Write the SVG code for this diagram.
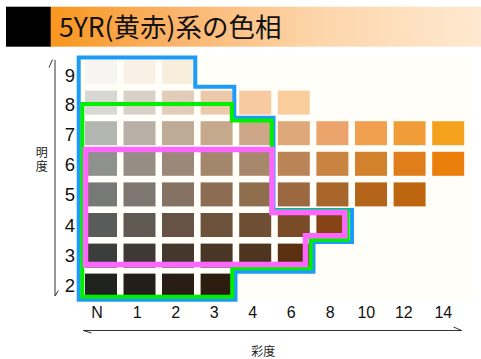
<svg xmlns="http://www.w3.org/2000/svg" width="481" height="359" viewBox="0 0 481 359">
<defs>
<linearGradient id="tg" x1="0" y1="0" x2="1" y2="0">
<stop offset="0" stop-color="#F8961E"/>
<stop offset="0.3" stop-color="#FBB56E"/>
<stop offset="0.6" stop-color="#FDD4A8"/>
<stop offset="1" stop-color="#FFE9D0"/>
</linearGradient>
<style>
.sw rect{height:24px;width:32px}
.ax{stroke:#333;stroke-width:1;fill:none}
.num{font-family:"Liberation Sans",Arial,sans-serif;fill:#111}
.yl{font-size:18.5px;text-anchor:middle}
.xl{font-size:16px;text-anchor:middle}
.jp{font-family:"Noto Sans CJK JP","Noto Sans CJK SC",sans-serif;fill:#222;font-size:12px}
.ol{fill:none;stroke-linejoin:miter}
</style>
</defs>
<rect width="481" height="359" fill="#FFFFFF"/>
<g id="title">
<rect x="6" y="6.7" width="45" height="40" fill="#000"/>
<rect x="50.7" y="6.7" width="430.3" height="40" fill="url(#tg)"/>
<text x="59" y="36.7" font-family="'Noto Sans CJK JP','Noto Sans CJK SC',sans-serif" font-size="26.5" fill="#111">5YR(黄赤)系の色相</text>
</g>
<rect x="78" y="55" width="394" height="246" fill="#FFFEF9"/>
<g id="swatches" class="sw">
<g id="row9">
<rect x="85" y="60" fill="#F6F5F1"/><rect x="123.5" y="60" fill="#F9F1E5"/><rect x="162" y="60" fill="#F8EEDC"/>
</g>
<g id="row8">
<rect x="85" y="90.6" fill="#D7D8D4"/><rect x="123.5" y="90.6" fill="#D9D1C8"/><rect x="162" y="90.6" fill="#E2CCBA"/><rect x="200.6" y="90.6" fill="#EBC9AA"/><rect x="239.2" y="90.6" fill="#F7CAA2"/><rect x="277.8" y="90.6" fill="#FACE9C"/>
</g>
<g id="row7">
<rect x="85" y="121.2" fill="#B4B6B1"/><rect x="123.5" y="121.2" fill="#B8AFA6"/><rect x="162" y="121.2" fill="#BEAA97"/><rect x="200.6" y="121.2" fill="#C6A98C"/><rect x="239.2" y="121.2" fill="#CDA787"/><rect x="277.8" y="121.2" fill="#DEA878"/><rect x="316.4" y="121.2" fill="#EBA46C"/><rect x="355" y="121.2" fill="#F0A04E"/><rect x="393.6" y="121.2" fill="#F09C38"/><rect x="432.2" y="121.2" fill="#F4A21E"/>
</g>
<g id="row6">
<rect x="85" y="151.8" fill="#8F918C"/><rect x="123.5" y="151.8" fill="#968D84"/><rect x="162" y="151.8" fill="#9C8878"/><rect x="200.6" y="151.8" fill="#A3866C"/><rect x="239.2" y="151.8" fill="#A8886B"/><rect x="277.8" y="151.8" fill="#BB8456"/><rect x="316.4" y="151.8" fill="#C98442"/><rect x="355" y="151.8" fill="#D2822C"/><rect x="393.6" y="151.8" fill="#E07E1C"/><rect x="432.2" y="151.8" fill="#EC7E0C"/>
</g>
<g id="row5">
<rect x="85" y="182.4" fill="#777976"/><rect x="123.5" y="182.4" fill="#7E776F"/><rect x="162" y="182.4" fill="#857262"/><rect x="200.6" y="182.4" fill="#8C6D54"/><rect x="239.2" y="182.4" fill="#8F6E4E"/><rect x="277.8" y="182.4" fill="#9C6840"/><rect x="316.4" y="182.4" fill="#A8662C"/><rect x="355" y="182.4" fill="#B5651A"/><rect x="393.6" y="182.4" fill="#BE6510"/>
</g>
<g id="row4">
<rect x="85" y="213" fill="#5A5C59"/><rect x="123.5" y="213" fill="#605952"/><rect x="162" y="213" fill="#665246"/><rect x="200.6" y="213" fill="#6C513B"/><rect x="239.2" y="213" fill="#6E4F33"/><rect x="277.8" y="213" fill="#7A4B27"/><rect x="316.4" y="213" fill="#864414"/>
</g>
<g id="row3">
<rect x="85" y="243.6" fill="#3A3D3A"/><rect x="123.5" y="243.6" fill="#3E3934"/><rect x="162" y="243.6" fill="#44372D"/><rect x="200.6" y="243.6" fill="#4A3626"/><rect x="239.2" y="243.6" fill="#4E3520"/><rect x="277.8" y="243.6" fill="#5B3010"/>
</g>
<g id="row2">
<rect x="85" y="273.6" fill="#1F2320"/><rect x="123.5" y="273.6" fill="#231E19"/><rect x="162" y="273.6" fill="#281E16"/><rect x="200.6" y="273.6" fill="#2D1D0F"/>
</g>
</g>
<g id="outlines">
<path id="blue" class="ol" stroke="#1C9CF6" stroke-width="4" d="M78.7,57.5 H195.3 V86.8 H234.3 V117.7 H273.5 V210 H352 V242 H313.5 V271.7 H235.5 V299.7 H78.7 Z"/>
<path id="green" class="ol" stroke="#00EE00" stroke-width="4" d="M82.3,104 H231.8 V120.5 H271.7 V211 H347.7 V239.8 H310.7 V268.3 H232.2 V296.7 H82.3 Z"/>
<path id="pink" class="ol" stroke="#FF66FF" stroke-width="5.5" d="M85.5,149.5 H272 V212.5 H344.8 V235.8 H305.5 V264.5 H85.5 Z"/>
</g>
<g id="axes">
<path class="ax" d="M55,60 V296 M52.5,59.5 L49,67.5 M55,296 L58.3,290.5"/>
<path class="ax" d="M83.3,330.5 H461.7 M83.3,330.5 L91.5,333 M461.7,330.5 L453.5,327"/>
<text class="jp" x="41.7" y="146.5" style="writing-mode:vertical-rl;letter-spacing:1.5px">明度</text>
<text class="jp" x="263.3" y="355.5" text-anchor="middle">彩度</text>
</g>
<g id="ylabels" class="num yl">
<text x="70" y="81.5">9</text>
<text x="70" y="111">8</text>
<text x="70" y="141">7</text>
<text x="70" y="171">6</text>
<text x="70" y="201.3">5</text>
<text x="70" y="231.5">4</text>
<text x="70" y="261.7">3</text>
<text x="70" y="292">2</text>
</g>
<g id="xlabels" class="num xl">
<text x="97" y="318.3">N</text>
<text x="137.3" y="318.3">1</text>
<text x="175.8" y="318.3">2</text>
<text x="214.2" y="318.3">3</text>
<text x="252.8" y="318.3">4</text>
<text x="291.3" y="318.3">6</text>
<text x="330.3" y="318.3">8</text>
<text x="366.3" y="318.3">10</text>
<text x="403.8" y="318.3">12</text>
<text x="443.3" y="318.3">14</text>
</g>
</svg>
